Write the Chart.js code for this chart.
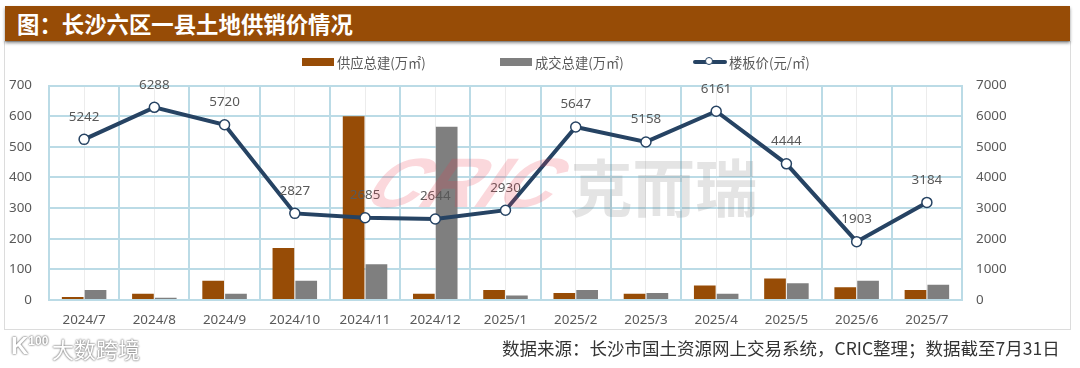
<!DOCTYPE html>
<html lang="zh">
<head>
<meta charset="utf-8">
<script src="https://cdn.jsdelivr.net/npm/chart.js@4"></script>
<style>
  html, body { margin: 0; padding: 0; background: #fff; }
  body { width: 1080px; height: 368px; position: relative; overflow: hidden; font-family: "Noto Sans CJK SC", "Noto Sans", sans-serif; }
  #panel { position: absolute; left: 4px; top: 41px; width: 1065px; height: 287px; border: 1px solid #dcdcdc; }
  #title { position: absolute; left: 5px; top: 6px; width: 1065px; height: 35px; background: #974c06; color: #fff; font-size: 22.4px; font-weight: 700; line-height: 35px; padding-left: 12px; box-sizing: border-box; box-shadow: 0 2px 3px rgba(0,0,0,.45); }
  #chartBox { position: absolute; left: 0; top: 0; width: 1080px; height: 368px; }
  #legend { position: absolute; top: 52px; left: 0; height: 20px; font-size: 13.3px; color: #595959; }
  .item { position: absolute; top: 0; display: flex; align-items: center; height: 20px; white-space: nowrap; }
  .swatch { width: 32px; height: 8px; margin-right: 3px; }
  .lineSwatch { position: relative; width: 34px; height: 3.5px; margin-right: 2px; border-radius: 2px; }
  .lineSwatch i { position: absolute; left: 12px; top: -3px; width: 6px; height: 6px; border-radius: 50%; background: #fff; border: 1.5px solid #264363; }
  #source { position: absolute; left: 502px; top: 336px; font-size: 17.5px; color: #333; white-space: nowrap; line-height: 24px; }
  .mark { position: absolute; white-space: nowrap; pointer-events: none; }
  #wmCric { left: 350px; top: 148px; font: 700 70px/70px "Liberation Sans", sans-serif; color: rgba(235,60,80,.2); transform-origin: left bottom; transform: skewX(-35deg) scaleX(1.1); }
  #wmCn { left: 570px; top: 145px; font-size: 62.5px; font-weight: 700; color: rgba(120,120,120,.2); line-height: 80px; }
  #wmBig { left: 52px; top: 334px; font-size: 22px; color: #fff; text-shadow: 0 0 2px #777, 0 0 2px #777; line-height: 28px; }
  #wmLogo { left: 11px; top: 330px; font: 700 24px/32px "Liberation Sans", sans-serif; color: #fff; text-shadow: 0 0 2px #777, 0 0 2px #777; }
  #wmLogo sup { font-size: 12px; line-height: 0; }
</style>
</head>
<body>
<div id="panel"></div>
<div id="title">图：长沙六区一县土地供销价情况</div>
<div id="chartBox"><canvas id="myChart" width="1080" height="368"></canvas></div>
<div id="legend"></div>
<div class="mark" id="wmCric">CRIC</div>
<div class="mark" id="wmCn">克而瑞</div>
<div class="mark" id="wmLogo">K<sup>100</sup></div>
<div class="mark" id="wmBig">大数跨境</div>
<div id="source">数据来源：长沙市国土资源网上交易系统，CRIC整理；数据截至7月31日</div>

<script>
var categories = ["2024/7", "2024/8", "2024/9", "2024/10", "2024/11", "2024/12", "2025/1", "2025/2", "2025/3", "2025/4", "2025/5", "2025/6", "2025/7"];
var supply = [10, 20, 63, 170, 600, 20, 33, 23, 20, 47, 70, 42, 33];
var deals = [33, 7, 20, 63, 117, 565, 15, 33, 23, 20, 55, 63, 50];
var price = [5242, 6288, 5720, 2827, 2685, 2644, 2930, 5647, 5158, 6161, 4444, 1903, 3184];
var legendLeft = [302, 500, 693];

var gridBlue = "#bbdbe6";
var textGrey = "#595959";
var tickFont = { family: "'Noto Sans', 'Noto Sans CJK SC', sans-serif", size: 13.4 };

// 折线上方的数值标签
var priceLabels = {
  id: "priceLabels",
  afterDatasetsDraw: function (chart) {
    var ctx = chart.ctx;
    var points = chart.getDatasetMeta(2).data;
    ctx.save();
    ctx.font = "13.4px 'Noto Sans', sans-serif";
    ctx.fillStyle = textGrey;
    ctx.textAlign = "center";
    ctx.textBaseline = "middle";
    points.forEach(function (point, i) {
      ctx.fillText(String(price[i]), point.x, point.y - 22.5);
    });
    ctx.restore();
  },
};

var chart = new Chart(document.getElementById("myChart").getContext("2d"), {
  data: {
    labels: categories,
    datasets: [
      { type: "bar", label: "供应总建(万㎡)", data: supply, backgroundColor: "#974c06", yAxisID: "y", order: 2, categoryPercentage: 0.65, barPercentage: 0.95 },
      { type: "bar", label: "成交总建(万㎡)", data: deals, backgroundColor: "#7f7f7f", yAxisID: "y", order: 2, categoryPercentage: 0.65, barPercentage: 0.95 },
      { type: "line", label: "楼板价(元/㎡)", data: price, yAxisID: "y1", order: 1, borderColor: "#264363", borderWidth: 4, tension: 0, pointRadius: 5, pointBorderWidth: 1.5, pointBackgroundColor: "#fff", pointBorderColor: "#264363" },
    ],
  },
  options: {
    responsive: false,
    animation: false,
    layout: { padding: { left: 0, right: 0, top: 85.5, bottom: 38 } },
    plugins: { legend: { display: false }, tooltip: { enabled: false } },
    scales: {
      x: {
        grid: { color: gridBlue, lineWidth: 2, offset: true, drawTicks: false },
        border: { color: gridBlue, width: 2 },
        ticks: { color: textGrey, font: tickFont, padding: 12, maxRotation: 0, autoSkip: false },
        afterFit: function (scale) { scale.height = 30; },
      },
      // 类目中心的浅色竖线
      xCenter: {
        type: "category",
        position: "bottom",
        labels: categories,
        offset: true,
        display: true,
        grid: { color: "#ececec", lineWidth: 1, offset: false, drawTicks: false },
        border: { display: false },
        ticks: { display: false },
        afterFit: function (scale) { scale.height = 0; },
      },
      y: {
        position: "left",
        min: 0,
        max: 700,
        ticks: { stepSize: 100, color: textGrey, font: tickFont, padding: 17 },
        grid: { color: gridBlue, lineWidth: 2, drawTicks: false },
        border: { color: gridBlue, width: 2 },
        afterFit: function (scale) { scale.width = 49; },
      },
      y1: {
        position: "right",
        min: 0,
        max: 7000,
        ticks: {
          stepSize: 1000,
          color: textGrey,
          font: tickFont,
          padding: 14,
          callback: function (value) { return String(value); },
        },
        grid: { drawOnChartArea: false, drawTicks: false },
        border: { color: gridBlue, width: 2 },
        afterFit: function (scale) { scale.width = 118; },
      },
    },
  },
  plugins: [priceLabels],
});

// 图例由数据集生成
var legend = document.getElementById("legend");
chart.data.datasets.forEach(function (ds, i) {
  var item = document.createElement("div");
  item.className = "item";
  item.style.left = legendLeft[i] + "px";
  var swatch = document.createElement("div");
  if (ds.type === "line") {
    swatch.className = "lineSwatch";
    swatch.style.background = ds.borderColor;
    swatch.appendChild(document.createElement("i"));
  } else {
    swatch.className = "swatch";
    swatch.style.background = ds.backgroundColor;
  }
  var text = document.createElement("span");
  text.textContent = ds.label;
  item.appendChild(swatch);
  item.appendChild(text);
  legend.appendChild(item);
});
</script>
</body>
</html>
